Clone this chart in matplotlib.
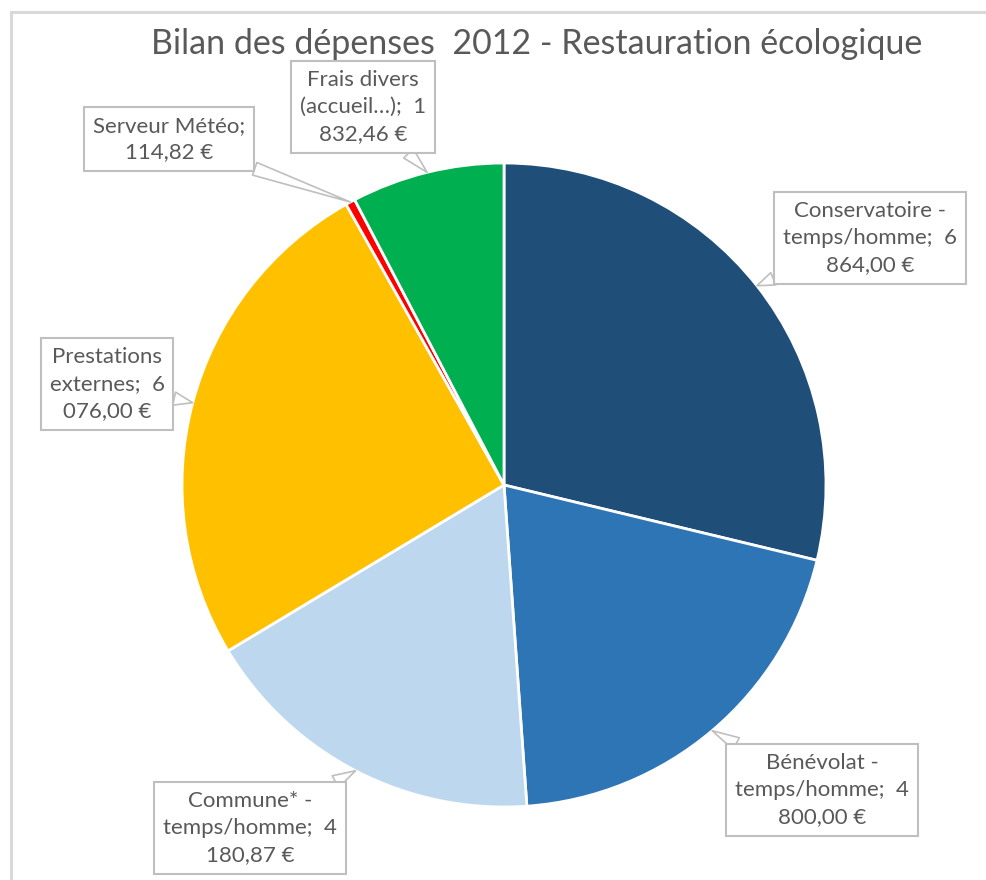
import matplotlib.pyplot as plt
import numpy as np

plt.rcParams['font.family'] = ['Lato', 'DejaVu Sans']

# dépenses 2012 par poste (en euros)
postes = ['Conservatoire -\ntemps/homme', 'Bénévolat -\ntemps/homme',
          'Commune* -\ntemps/homme', 'Prestations\nexternes',
          'Serveur Météo', 'Frais divers\n(accueil…)']
montants = [6864.00, 4800.00, 4180.87, 6076.00, 114.82, 1832.46]
couleurs = ['#1F4E79', '#2E75B6', '#BDD7EE', '#FFC000', '#FF0000', '#00B050']

# position des étiquettes (pixels, origine en bas à gauche)
pos_etiq = [(870, 642), (822, 90), (250, 52), (107, 496), (169, 741), (363, 773)]

W, H = 987, 880
centre = (504, 395)
rayon = 322
gris = '#595959'


def euros(v):
    s = f'{v:,.2f}'.replace(',', ' ').replace('.', ',')
    if ' ' in s:
        mille, reste = s.split(' ', 1)
        return mille + '\n' + reste + ' €'
    return s + ' €'


fig = plt.figure(figsize=(W / 100, H / 100), dpi=100)
ax = fig.add_axes([0, 0, 1, 1])

wedges, _ = ax.pie(montants, colors=couleurs, startangle=90, counterclock=False,
                   center=centre, radius=rayon,
                   wedgeprops=dict(edgecolor='white', linewidth=2))
ax.set_xlim(0, W)
ax.set_ylim(0, H)
ax.set_aspect('equal')
ax.axis('off')

for w, nom, v, (lx, ly) in zip(wedges, postes, montants, pos_etiq):
    ang = np.deg2rad((w.theta1 + w.theta2) / 2)
    pointe = (centre[0] + rayon * np.cos(ang), centre[1] + rayon * np.sin(ang))
    if v >= 1000:
        txt = nom + ';  ' + euros(v)
    else:
        txt = nom + ';\n' + euros(v)
    ax.annotate(txt, xy=pointe, xytext=(lx, ly), ha='center', va='center',
                fontsize=16, color=gris, linespacing=1.42,
                bbox=dict(boxstyle='square,pad=0.4', fc='white', ec='#bfbfbf', lw=1.5),
                arrowprops=dict(arrowstyle='wedge,tail_width=0.6,shrink_factor=0.5',
                                fc='white', ec='#bfbfbf', lw=1.2,
                                shrinkA=0, shrinkB=0))

ax.text(537, 836, 'Bilan des dépenses  2012 - Restauration écologique',
        ha='center', va='center', fontsize=24.5, color=gris)

# cadre du graphique
fig.add_artist(plt.Line2D([11 / W, 1], [1 - 12 / H, 1 - 12 / H], color='#d9d9d9', lw=2.2))
fig.add_artist(plt.Line2D([11 / W, 11 / W], [0, 1 - 12 / H], color='#d9d9d9', lw=2.2))

fig.savefig('out.png', dpi=100)
